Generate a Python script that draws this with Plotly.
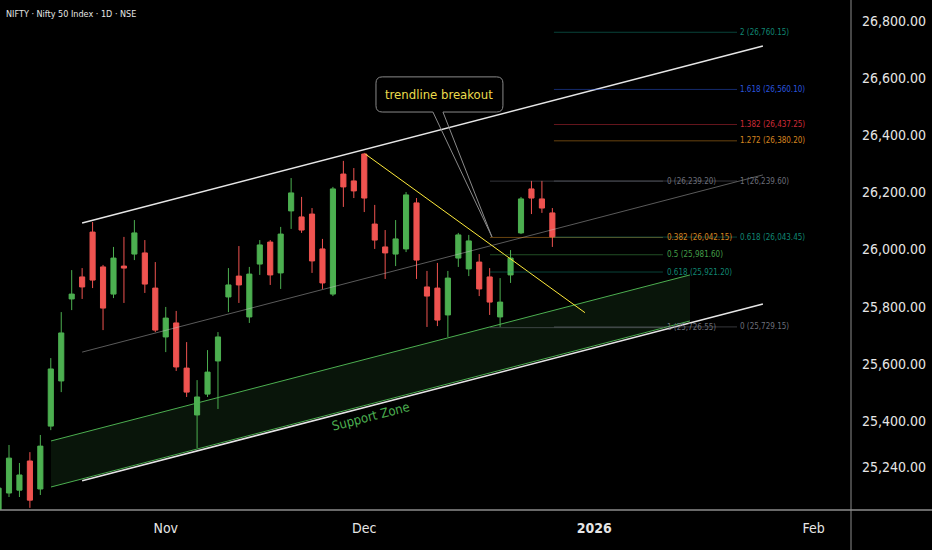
import plotly.graph_objects as go

# daily NIFTY candles, Oct 9 - Dec 26 (first one is cut by the left edge)
dates = ["2025-10-09", "2025-10-10", "2025-10-13", "2025-10-14", "2025-10-15", "2025-10-16",
         "2025-10-17", "2025-10-20", "2025-10-21", "2025-10-23", "2025-10-24", "2025-10-27",
         "2025-10-28", "2025-10-29", "2025-10-30", "2025-10-31", "2025-11-03", "2025-11-04",
         "2025-11-06", "2025-11-07", "2025-11-10", "2025-11-11", "2025-11-12", "2025-11-13",
         "2025-11-14", "2025-11-17", "2025-11-18", "2025-11-19", "2025-11-20", "2025-11-21",
         "2025-11-24", "2025-11-25", "2025-11-26", "2025-11-27", "2025-11-28", "2025-12-01",
         "2025-12-02", "2025-12-03", "2025-12-04", "2025-12-05", "2025-12-08", "2025-12-09",
         "2025-12-10", "2025-12-11", "2025-12-12", "2025-12-15", "2025-12-16", "2025-12-17",
         "2025-12-18", "2025-12-19", "2025-12-22", "2025-12-23", "2025-12-24", "2025-12-26"]
opens = [25070, 25148, 25158, 25260, 25162, 25382, 25540, 25827, 25904, 26061, 25939, 25844,
         25942, 25984, 25988, 25865, 25694, 25743, 25585, 25421, 25494, 25610, 25834, 25907,
         25764, 25949, 26026, 25918, 26135, 26114, 26124, 26002, 25844, 26264, 26240, 26334,
         26089, 26009, 25984, 26002, 26163, 25869, 25865, 25771, 25970, 25932, 25956, 25904,
         25764, 25911, 26058, 26212, 26177, 26128]
highs = [25195, 25316, 25253, 25291, 25351, 25620, 25781, 25928, 25935, 26096, 25946, 26009,
         26044, 26103, 26033, 25956, 25799, 25785, 25676, 25543, 25648, 25711, 25935, 26012,
         25939, 26033, 26033, 26079, 26250, 26184, 26145, 26037, 26219, 26310, 26285, 26338,
         26156, 26068, 26103, 26201, 26180, 25925, 25953, 25925, 26058, 26051, 25984, 25935,
         25900, 25998, 26184, 26240, 26240, 26145]
lows = [25030, 25134, 25134, 25096, 25141, 25368, 25501, 25788, 25827, 25865, 25718, 25830,
        25813, 25963, 25848, 25711, 25641, 25575, 25484, 25305, 25484, 25442, 25781, 25813,
        25743, 25911, 25876, 25862, 26072, 26058, 25918, 25862, 25837, 26149, 26180, 26131,
        26002, 25897, 25942, 25991, 25897, 25729, 25732, 25694, 25939, 25907, 25837, 25771,
        25729, 25883, 26054, 26124, 26128, 26009]
closes = [25165, 25270, 25211, 25123, 25312, 25582, 25708, 25844, 25869, 25893, 25795, 25970,
          25935, 26058, 25879, 25718, 25760, 25589, 25501, 25484, 25571, 25694, 25876, 25876,
          25914, 26016, 25911, 26054, 26198, 26068, 25960, 25883, 26212, 26219, 26205, 26180,
          26033, 25988, 26037, 26191, 25963, 25837, 25753, 25900, 26051, 26030, 25862, 25816,
          25816, 25970, 26177, 26180, 26145, 26044]

month_ticks = [16, 35, 57, 78]          # bar index of first session of each month
month_labels = ["Nov", "Dec", "<b>2026</b>", "Feb"]
price_ticks = [26800, 26600, 26400, 26200, 26000, 25800, 25600, 25400, 25240]

# fib retracement (left) and trend-based extension (right)
fib1_levels = [0, 0.382, 0.5, 0.618, 1]
fib1_prices = [26239.20, 26042.15, 25981.60, 25921.20, 25726.55]
fib2_levels = [0, 0.618, 1, 1.272, 1.382, 1.618, 2]
fib2_prices = [25729.15, 26043.45, 26239.60, 26380.20, 26437.25, 26560.10, 26760.15]

FIB_COL = {0: "#787b86", 0.382: "#e89524", 0.5: "#4caf50", 0.618: "#13957f", 1: "#787b86",
           1.272: "#e89524", 1.382: "#e0313f", 1.618: "#2f5ff0", 2: "#13957f"}

FONT = "DejaVu Sans Condensed, Liberation Sans Narrow, DejaVu Sans, sans-serif"
x = list(range(len(dates)))

fig = go.Figure()
fig.add_trace(go.Candlestick(
    x=x, open=opens, high=highs, low=lows, close=closes,
    increasing=dict(line=dict(color="#4caf50", width=1), fillcolor="#4caf50"),
    decreasing=dict(line=dict(color="#ef5350", width=1), fillcolor="#ef5350"),
    whiskerwidth=0, hoverinfo="skip", showlegend=False,
))

shapes = []


def seg(x0, y0, x1, y1, color, width=1, layer="above"):
    shapes.append(dict(type="line", xref="x", yref="y", x0=x0, y0=y0, x1=x1, y1=y1,
                       line=dict(color=color, width=width), layer=layer))


# support zone (parallelogram)
zx0, zx1 = 5.02, 66.17
z_top = (25330, 25911)
z_bot = (25169, 25750)
shapes.append(dict(type="path", xref="x", yref="y", layer="below",
                   path=f"M {zx0},{z_top[0]} L {zx1},{z_top[1]} L {zx1},{z_bot[1]} L {zx0},{z_bot[0]} Z",
                   fillcolor="rgba(76,175,80,0.12)", line=dict(width=0)))
seg(zx0, z_top[0], zx1, z_top[1], "#4caf50", 1)
seg(zx0, z_bot[0], zx1, z_bot[1], "#4caf50", 1)

# parallel channel
cx0, cx1 = 8.0, 73.15
seg(cx0, 26093, cx1, 26712, "#e6e6e6", 1.6)
seg(cx0, 25191, cx1, 25809, "#e6e6e6", 1.6)
seg(cx0, 25641, cx1, 26261, "rgba(200,200,200,0.45)", 1)

# falling trendline from Dec 1 high
seg(35.1, 26334, 56.12, 25779, "#ffeb3b", 1)

# fib lines
for lv, p in zip(fib1_levels, fib1_prices):
    seg(47.03, p, 63.58, p, FIB_COL[lv], 1)
for lv, p in zip(fib2_levels, fib2_prices):
    seg(53.15, p, 70.67, p, FIB_COL[lv], 1)
for s in shapes[-12:]:
    s["opacity"] = 0.45

# callout box with tail
bx0, bx1, bt, bb = 36.12, 48.27, 26604, 26481
rx, ry = 0.6, 22
tl, tr, tipx, tipy = 41.57, 42.53, 47.22, 26044
callout = (f"M {bx0+rx},{bt} L {bx1-rx},{bt} Q {bx1},{bt} {bx1},{bt-ry} L {bx1},{bb+ry} "
           f"Q {bx1},{bb} {bx1-rx},{bb} L {tr},{bb} L {tipx},{tipy} L {tl},{bb} "
           f"L {bx0+rx},{bb} Q {bx0},{bb} {bx0},{bb+ry} L {bx0},{bt-ry} Q {bx0},{bt} {bx0+rx},{bt} Z")
shapes.append(dict(type="path", xref="x", yref="y", path=callout, fillcolor="rgba(0,0,0,0)",
                   line=dict(color="#8a8a8a", width=1), layer="above"))

# frame lines of the price/time scales
shapes.append(dict(type="line", xref="paper", yref="paper", x0=0, x1=1.1, y0=0, y1=0,
                   line=dict(color="#8c8c8c", width=1.5)))
shapes.append(dict(type="line", xref="paper", yref="paper", x0=1, x1=1, y0=-0.1, y1=1,
                   line=dict(color="#8c8c8c", width=1)))

annotations = [
    dict(xref="paper", yref="paper", x=0, y=1, xanchor="left", yanchor="top", xshift=4, yshift=-7,
         text="NIFTY · Nifty 50 Index · 1D · NSE", showarrow=False,
         font=dict(family=FONT, size=9, color="#e6e6e6")),
    dict(x=(bx0 + bx1) / 2, y=(bt + bb) / 2, text="trendline breakout", showarrow=False,
         font=dict(family=FONT, size=13, color="#ecdc4c")),
    dict(x=35.6, y=25414, text="Support Zone", showarrow=False, textangle=-14.6,
         font=dict(family=FONT, size=13, color="#4caf50")),
]
for lv, p in zip(fib1_levels, fib1_prices):
    annotations.append(dict(x=63.77, y=p, xanchor="left", text=f"{lv:g} ({p:,.2f})", showarrow=False,
                            font=dict(family=FONT, size=8, color=FIB_COL[lv]), opacity=0.9))
for lv, p in zip(fib2_levels, fib2_prices):
    annotations.append(dict(x=70.76, y=p, xanchor="left", text=f"{lv:g} ({p:,.2f})", showarrow=False,
                            font=dict(family=FONT, size=8, color=FIB_COL[lv]), opacity=0.9))

fig.update_layout(
    width=932, height=550,
    margin=dict(l=0, r=81, t=0, b=40),
    paper_bgcolor="#000000", plot_bgcolor="#000000",
    shapes=shapes, annotations=annotations,
    hovermode=False, showlegend=False,
    xaxis=dict(range=[0.139, 81.58], showgrid=False, zeroline=False, rangeslider=dict(visible=False),
               tickvals=month_ticks, ticktext=month_labels, ticks="", ticklabelstandoff=8,
               tickfont=dict(family=FONT, size=14, color="#e6e6e6")),
    yaxis=dict(range=[25088.5, 26873], side="right", showgrid=False, zeroline=False,
               tickvals=price_ticks, tickformat=",.2f", ticks="", ticklabelstandoff=10,
               tickfont=dict(family=FONT, size=14, color="#e6e6e6")),
)

# page margin off so the 932x550 figure fills the window
fig.write_html("out.html", config={"displayModeBar": False},
               post_script="document.body.style.margin='0';document.body.style.background='#000';")
